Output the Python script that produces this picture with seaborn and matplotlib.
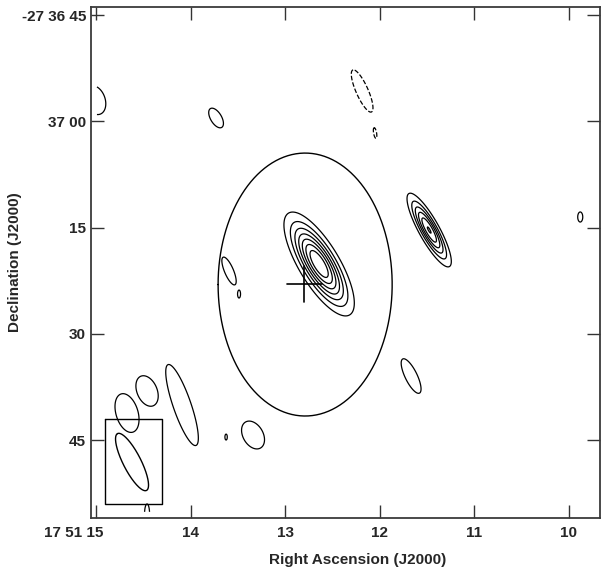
import numpy as np
import seaborn as sns
import matplotlib.pyplot as plt
import matplotlib.transforms as mtransforms

# 좌표: x = RA 초 (17h51m xx s), y = Dec 초 (-27°36'00" 아래로 +)
x_ticks = [15, 14, 13, 12, 11, 10]
x_tick_labels = ['17 51 15', '14', '13', '12', '11', '10']
y_ticks = [45, 60, 75, 90, 105]
y_tick_labels = ['-27 36 45', '37 00', '15', '30', '45']

# 가우시안 성분 (중심 RA[s], Dec[arcsec], 진폭, 장축/단축 sigma[arcsec], PA[deg])
src_ra = [12.640, 11.476, 15.010, 13.730, 12.185, 12.048, 13.593, 13.487,
          9.878, 11.667, 14.460, 14.090, 14.672, 13.624, 13.339, 14.460]
src_dec = [80.13, 75.34, 57.0, 59.53, 55.72, 61.65, 81.12, 84.37,
           73.5, 95.94, 98.05, 100.03, 101.16, 104.55, 104.26, 115.4]
src_amp = [8.05, 6.08, 1.5, 1.5, -1.5, -1.2, 1.5, 1.2,
           1.2, 1.5, 1.5, 1.5, 1.5, 1.2, 1.5, 1.3]
src_maj = [4.1, 3.1, 2.35, 1.72, 3.6, 1.28, 2.35, 0.94,
           1.18, 2.98, 2.51, 6.7, 3.13, 0.7, 2.35, 1.95]
src_min = [1.4, 0.76, 1.57, 0.86, 0.94, 0.35, 0.7, 0.35,
           0.59, 0.94, 1.57, 1.4, 1.72, 0.28, 1.57, 0.49]
src_pa = [31, 29, 20, 31, 24, 10, 23, 0, 0, 26, 23, 19, 17, 0, 30, 0]
levels_neg = [-1]
levels_pos = [1, 2, 3, 4, 5, 6, 7]

# 오차 원, 십자, 빔, 박스
circle_ra, circle_dec, circle_a, circle_b = 12.788, 83.03, 0.9206, 18.55
cross_ra, cross_dec, cross_dra, cross_ddec = 12.799, 82.96, 0.185, 2.54
beam_ra, beam_dec, beam_maj, beam_min, beam_pa = 14.619, 108.07, 9.0, 2.5, 27
box_ra = [14.905, 14.302]
box_dec = [102.0, 114.0]

ARC_PER_S = 13.33  # RA 1초 = 13.33 arcsec
FS = 11

sns.set_style('ticks')
plt.rcParams['font.family'] = ['Liberation Sans', 'DejaVu Sans']
plt.rcParams['font.weight'] = 'bold'

fig = plt.figure(figsize=(6.03, 5.70), dpi=100)
ax = fig.add_axes([91 / 603, 52 / 570, 509 / 603, 511 / 570])

# 모델 이미지 (맵 영역은 축보다 약간 안쪽)
gra = np.linspace(14.99, 9.66, 900)
gdec = np.linspace(43.8, 115.1, 900)
RA, DEC = np.meshgrid(gra, gdec)
pos = np.zeros_like(RA)
neg = np.zeros_like(RA)
for r0, d0, a, smaj, smin, pa in zip(src_ra, src_dec, src_amp, src_maj, src_min, src_pa):
    e = (RA - r0) * ARC_PER_S
    n = -(DEC - d0)
    t = np.deg2rad(pa)
    u = e * np.sin(t) + n * np.cos(t)
    v = e * np.cos(t) - n * np.sin(t)
    g = a * np.exp(-0.5 * (u ** 2 / smaj ** 2 + v ** 2 / smin ** 2))
    if a > 0:
        pos = np.maximum(pos, g)
    else:
        neg = np.minimum(neg, g)
Z = pos + neg

ax.contour(RA, DEC, Z, levels=levels_neg + levels_pos, colors='black',
           linewidths=0.9, negative_linestyles='dashed')

t = np.linspace(0, 2 * np.pi, 400)
sns.lineplot(x=circle_ra + circle_a * np.cos(t), y=circle_dec + circle_b * np.sin(t),
             sort=False, estimator=None, color='black', lw=1.0, ax=ax)

sns.lineplot(x=[cross_ra + cross_dra, cross_ra - cross_dra], y=[cross_dec, cross_dec],
             sort=False, estimator=None, color='black', lw=1.2, ax=ax)
sns.lineplot(x=[cross_ra, cross_ra], y=[cross_dec - cross_ddec, cross_dec + cross_ddec],
             sort=False, estimator=None, color='black', lw=1.2, ax=ax)

pa = np.deg2rad(beam_pa)
bu = beam_maj / 2 * np.cos(t)
bv = beam_min / 2 * np.sin(t)
be = bu * np.sin(pa) + bv * np.cos(pa)
bn = bu * np.cos(pa) - bv * np.sin(pa)
sns.lineplot(x=beam_ra + be / ARC_PER_S, y=beam_dec - bn,
             sort=False, estimator=None, color='black', lw=1.0, ax=ax)

sns.lineplot(x=[box_ra[0], box_ra[1], box_ra[1], box_ra[0], box_ra[0]],
             y=[box_dec[0], box_dec[0], box_dec[1], box_dec[1], box_dec[0]],
             sort=False, estimator=None, color='black', lw=1.0, ax=ax)

ax.set_xlim(15.053, 9.669)
ax.set_ylim(115.97, 43.87)
ax.set_xticks(x_ticks)
ax.set_xticklabels(x_tick_labels, fontsize=FS, fontweight='bold')
ax.set_yticks(y_ticks)
ax.set_yticklabels(y_tick_labels, fontsize=FS, fontweight='bold')
ax.tick_params(axis='both', direction='in', length=9.5, width=1.0, color='#333333',
               top=True, right=True)
ax.tick_params(axis='x', pad=6)
ax.tick_params(axis='y', pad=3.5)
for s in ax.spines.values():
    s.set_color('#3a3a3a')
    s.set_linewidth(1.3)

lab = ax.get_xticklabels()[0]
lab.set_horizontalalignment('right')
lab.set_transform(lab.get_transform() + mtransforms.ScaledTranslation(0.075, 0, fig.dpi_scale_trans))

ax.set_xlabel('Right Ascension (J2000)', fontsize=FS, fontweight='bold', labelpad=10)
ax.xaxis.set_label_coords(0.5246, -0.069)
ax.set_ylabel('Declination (J2000)', fontsize=FS, fontweight='bold', labelpad=0)

plt.savefig('out.png', dpi=100)
